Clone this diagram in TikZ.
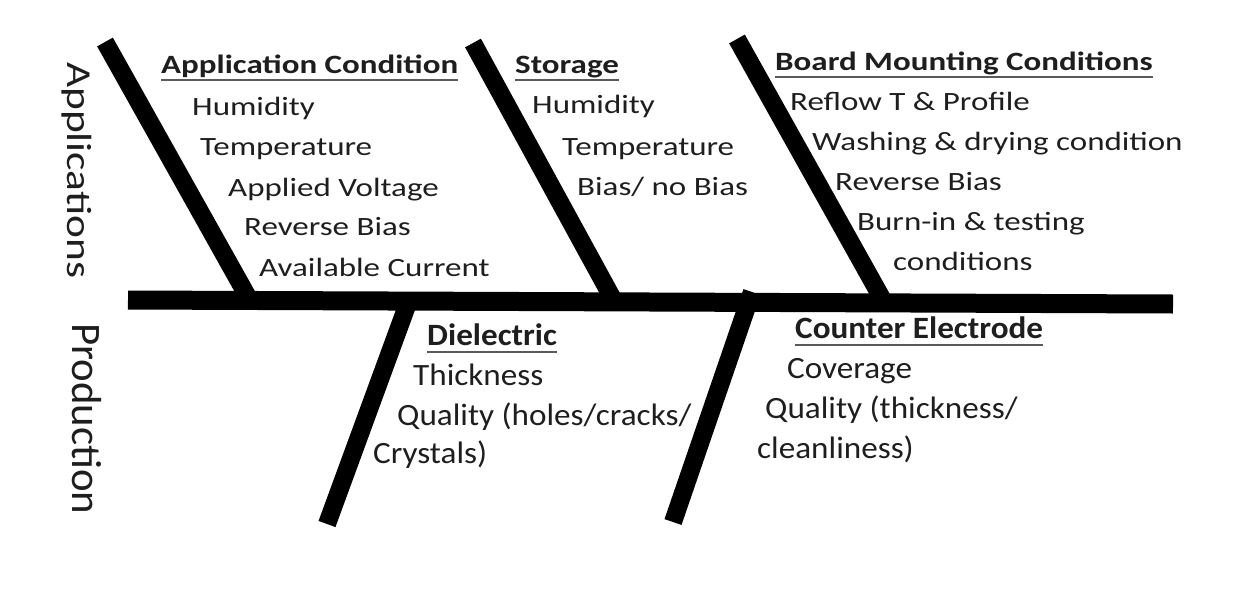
\documentclass[tikz,border=0pt]{standalone}
\usepackage{fontspec}
\setmainfont{Carlito}
\usepackage{graphicx}
\definecolor{ink}{HTML}{1E1E1E}
\definecolor{ulcol}{HTML}{5A5A5A}
\newcommand\upT[1]{\scalebox{1.25}[1]{#1}}
\newcommand\loT[1]{\scalebox{1.07}[1]{#1}}
\tikzset{
  bone/.style={line width=18pt, black},
  spine/.style={line width=19pt, black},
  upl/.style={anchor=base west, inner sep=0pt, text=ink, font=\fontsize{26.4}{30}\selectfont},
  uph/.style={upl, font=\fontsize{26.4}{30}\selectfont\bfseries},
  lol/.style={anchor=base west, inner sep=0pt, text=ink, font=\fontsize{31}{36}\selectfont},
  loh/.style={lol, font=\fontsize{31}{36}\selectfont\bfseries},
  side/.style={anchor=base west, inner sep=0pt, text=ink, rotate=-90},
  uline/.style={line width=2.2pt, ulcol}
}
\begin{document}
\begin{tikzpicture}[x=1pt,y=-1pt]
\useasboundingbox (0,0) rectangle (1248,608);
% bone end points
\coordinate (spL) at (128,300);
\coordinate (spR) at (1173,304);
\coordinate (b1t) at (105,42);  \coordinate (b1b) at (249,299);
\coordinate (b2t) at (473,43);  \coordinate (b2b) at (614,301);
\coordinate (b3t) at (737,39);  \coordinate (b3b) at (884,302);
\coordinate (b4t) at (408,303); \coordinate (b4b) at (327,524);
\coordinate (b5t) at (752,292); \coordinate (b5b) at (673,522);
\draw[spine] (spL) -- (spR);
\draw[bone] (b1t) -- (b1b);
\draw[bone] (b2t) -- (b2b);
\draw[bone] (b3t) -- (b3b);
\draw[bone] (b4t) -- (b4b);
\draw[bone] (b5t) -- (b5b);
% side labels
\node[side, font=\fontsize{35}{40}\selectfont] (app) at (67,62) {\scalebox{1.24}[1]{Applications}};
\node[side, font=\fontsize{42}{48}\selectfont] (prod) at (72,323) {\scalebox{1.02}[1]{Production}};
% Application condition
\node[uph] (h1) at (161,73) {\upT{Application Condition}};
\node[upl] (a1) at (192,115) {\upT{Humidity}};
\node[upl] (a2) at (200,155) {\upT{Temperature}};
\node[upl] (a3) at (228,196) {\upT{Applied Voltage}};
\node[upl] (a4) at (244,235) {\upT{Reverse Bias}};
\node[upl] (a5) at (259,276) {\upT{Available Current}};
% Storage
\node[uph] (h2) at (515,73) {\upT{Storage}};
\node[upl] (s1) at (532,113) {\upT{Humidity}};
\node[upl] (s2) at (562,155) {\upT{Temperature}};
\node[upl] (s3) at (577,195) {\upT{Bias/ no Bias}};
% Board mounting
\node[uph] (h3) at (775,70) {\upT{Board Mounting Conditions}};
\node[upl] (m1) at (790,110) {\upT{Reflow T \& Profile}};
\node[upl] (m2) at (812,150) {\upT{Washing \& drying condition}};
\node[upl] (m3) at (835,190) {\upT{Reverse Bias}};
\node[upl] (m4) at (857,230) {\upT{Burn-in \& testing}};
\node[upl] (m5) at (893,270) {\upT{conditions}};
% Dielectric
\node[loh] (h4) at (427,345) {\loT{Dielectric}};
\node[lol] (d1) at (413,385) {\loT{Thickness}};
\node[lol] (d2) at (397,425) {\loT{Quality (holes/cracks/}};
\node[lol] (d3) at (373,463) {\loT{Crystals)}};
% Counter electrode
\node[loh] (h5) at (795,338) {\loT{Counter Electrode}};
\node[lol] (c1) at (787,378) {\loT{Coverage}};
\node[lol] (c2) at (765,418) {\loT{Quality (thickness/}};
\node[lol] (c3) at (757,458) {\loT{cleanliness)}};
% underlines
\foreach \h in {h1,h2,h3,h4,h5}
  \draw[uline] ([yshift=-7pt]\h.base west) -- ([yshift=-7pt]\h.base east);
\end{tikzpicture}
\end{document}
